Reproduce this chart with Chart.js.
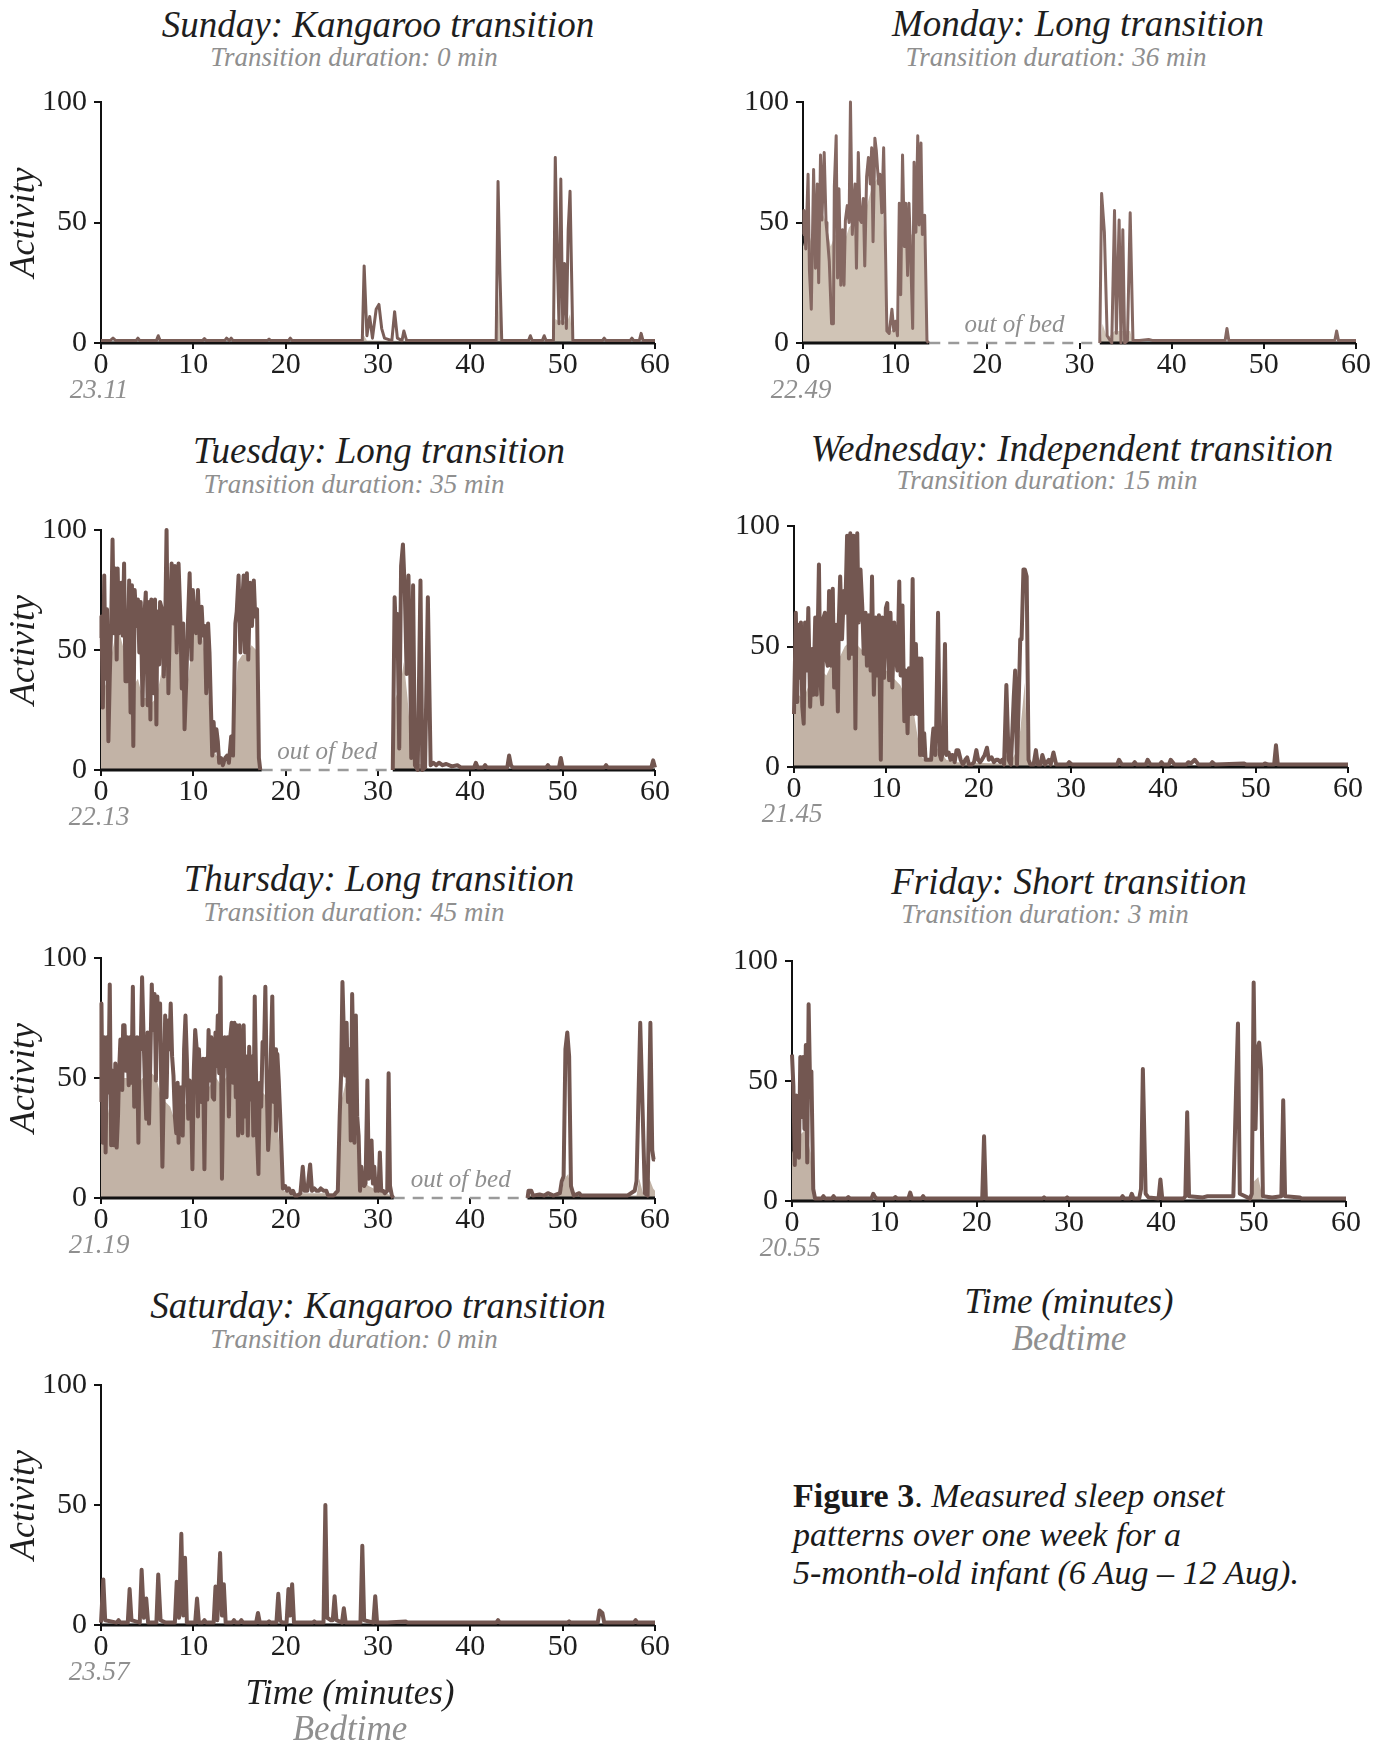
<!DOCTYPE html>
<html>
<head>
<meta charset="utf-8">
<script src="https://cdn.jsdelivr.net/npm/chart.js@4.4.1/dist/chart.umd.min.js"></script>
<style>
  body { margin: 0; width: 1388px; height: 1746px; position: relative; background: #fff; overflow: hidden; font-family: "Liberation Serif", serif; }
  canvas { position: absolute; }
  .txt { position: absolute; white-space: nowrap; line-height: 1; font-style: italic; transform: translateX(-50%); }
  #caption { position: absolute; left: 793px; top: 1477px; font-size: 34px; line-height: 38.5px; color: #1a1a1a; font-style: italic; white-space: nowrap; }
  #caption b, #caption span { font-style: normal; }
</style>
</head>
<body>
<div id="caption"><b>Figure 3</b><span>.</span> Measured sleep onset<br>patterns over one week for a<br>5-month-old infant (6 Aug – 12 Aug).</div>
<script>
// labels per day
const days = ["Sunday", "Monday", "Tuesday", "Wednesday", "Thursday", "Friday", "Saturday"];
const transitionTypes = ["Kangaroo", "Long", "Long", "Independent", "Long", "Short", "Kangaroo"];
const durations = [0, 36, 35, 15, 45, 3, 0];
const bedtimes = ["23.11", "22.49", "22.13", "21.45", "21.19", "20.55", "23.57"];
// minutes out of bed (dashed), null = stayed in bed
const outOfBed = [null, [13.7, 32.2], [17.4, 31.6], null, [31.7, 46.2], null, null];
const xTicks = [0, 10, 20, 30, 40, 50, 60];
const yTicks = [0, 50, 100];

// [minute, activity]
const sundayActivity = [[0,1],[1,1],[1.3,2],[1.6,1],[3.8,1],[4,2],[4.2,1],[6,1],[6.2,3],[6.4,1],[11,1],[11.2,1.8],[11.4,1],
  [13.4,1],[13.6,2],[13.9,1],[14.1,2],[14.3,1],[18,1],[18.2,1.6],[18.4,1],[20.3,1],[20.5,2],[20.7,1],[27.5,1],[28.3,1],
  [28.5,32],[28.8,3],[29.1,11],[29.4,2],[29.8,14],[30.1,16],[30.4,6],[30.7,2],[31.5,1],[31.8,13],[32.1,2],[32.6,1],[32.8,5],
  [33.1,1],[40,1],[42.8,1],[43,67],[43.2,30],[43.4,1],[46.3,1],[46.5,3],[46.7,1],[47.8,1],[48,3],[48.2,1],[49,1],[49.2,77],
  [49.4,38],[49.6,8],[49.8,68],[50,8],[50.2,33],[50.4,6],[50.6,47],[50.8,63],[51.1,1],[54.3,1],[54.5,2],[54.7,1],[57.3,1],
  [57.5,2],[57.7,1],[58.3,1],[58.5,4],[58.7,1],[60,1]];
const sundayFill = [[0,0.5],[28.3,0.5],[28.5,3],[28.8,1],[42.9,0.5],[43.1,22],[43.3,1],[49,0.5],[49.2,10],[49.6,9],[50,10],
  [50.4,8],[50.8,12],[51.1,0.5],[60,0.5]];

const mondayActivity = [[0,45],[0.1,55],[0.3,39],[0.55,70],[0.7,30],[0.9,14],[1.15,72],[1.35,31],[1.55,66],[1.7,25],[1.9,78],
  [2.05,51],[2.3,79],[2.5,50],[2.6,46],[2.85,34],[3.1,8],[3.3,8],[3.4,65],[3.6,86],[3.75,27],[3.9,64],[4.1,24],[4.3,47],
  [4.45,24],[4.6,51],[4.8,57],[5,50],[5.15,100],[5.35,45],[5.5,57],[5.65,66],[5.8,31],[6,79],[6.2,51],[6.35,50],[6.55,60],
  [6.7,32],[6.9,69],[7.1,77],[7.3,66],[7.45,81],[7.6,42],[7.8,85],[7.95,80],[8.2,66],[8.35,70],[8.55,54],[8.75,81],[8.9,50],
  [9.1,5],[9.35,4],[9.65,14],[9.85,5],[10.05,9],[10.25,3],[10.45,58],[10.6,20],[10.8,78],[11,40],[11.15,58],[11.35,28],
  [11.5,58],[11.7,34],[11.9,6],[12.05,75],[12.25,46],[12.45,86],[12.6,49],[12.8,83],[12.95,45],[13.2,53],[13.45,1],[13.6,0],
  [23,null],
  [32.2,0],[32.4,62],[32.7,46],[33,3],[33.5,0],[33.8,55],[34,4],[34.3,51],[34.5,0],[34.7,47],[34.9,0],[35.2,1],[35.5,54],
  [35.8,1],[36.5,1],[37.5,1.5],[38,1],[42,1],[45.8,1],[46,6],[46.2,1],[50,1],[55,1],[57.7,1],[57.9,5],[58.1,1],[60,1]];
const mondayFill = [[0,40],[0.5,48],[1,40],[1.5,48],[2,55],[2.5,50],[3,40],[3.5,45],[4,40],[4.5,42],[5,48],[5.5,50],[6,52],
  [6.5,50],[7,58],[7.5,65],[8,68],[8.5,62],[8.8,45],[9,6],[9.5,5],[10,6],[10.4,5],[10.6,35],[11,45],[11.5,45],[12,45],
  [12.5,55],[13,50],[13.3,30],[13.5,0],[32.3,0],[32.5,8],[33,2],[33.8,5],[35.5,5],[35.8,0],[60,0.5]];

const tuesdayActivity = [[0,55],[0.05,64],[0.2,26],[0.35,81],[0.5,38],[0.65,67],[0.8,12],[0.95,39],[1.1,60],[1.25,96],[1.4,57],
  [1.55,84],[1.7,46],[1.8,84],[1.95,57],[2.2,78],[2.35,56],[2.5,86],[2.65,37],[2.85,37],[3.05,79],[3.2,24],[3.35,77],[3.5,10],
  [3.65,75],[3.85,60],[4,71],[4.15,49],[4.3,70],[4.5,27],[4.65,61],[4.85,74],[5.05,27],[5.2,70],[5.35,21],[5.45,71],[5.7,32],
  [5.85,71],[6,19],[6.1,66],[6.3,44],[6.4,70],[6.6,67],[6.8,39],[6.95,59],[7.1,100],[7.3,32],[7.45,60],[7.65,86],[7.85,61],
  [8,85],[8.2,49],[8.4,86],[8.6,63],[8.75,34],[8.9,61],[9.05,17],[9.25,39],[9.4,60],[9.6,82],[9.8,46],[9.95,75],[10.15,59],
  [10.3,57],[10.5,75],[10.7,53],[10.9,68],[11.05,56],[11.25,60],[11.4,32],[11.6,61],[11.75,49],[11.9,27],[12.05,6],[12.2,20],
  [12.35,8],[12.5,17],[12.65,12],[12.8,3],[13,5],[13.2,2],[13.45,5],[13.65,6],[13.85,3],[14.1,14],[14.3,6],[14.55,61],
  [14.7,66],[14.9,81],[15.1,49],[15.25,66],[15.45,81],[15.6,49],[15.8,82],[15.95,46],[16.15,78],[16.35,60],[16.55,79],
  [16.7,64],[16.9,67],[17.1,5],[17.25,0],
  [24.5,null],
  [31.6,0],[31.8,72],[32,50],[32.1,65],[32.3,9],[32.5,85],[32.7,94],[32.9,75],[33.1,40],[33.3,81],[33.5,40],[33.6,5],
  [33.8,77],[34,2],[34.3,0],[34.6,79],[34.8,0],[35.1,1],[35.4,72],[35.7,2],[36,3],[36.3,2],[36.6,3],[37,2],[37.4,2.5],
  [38,1.5],[38.6,2],[39,1],[40.4,1],[40.6,3],[40.8,1],[41.4,1],[41.6,2],[41.8,1],[44,1],[44.2,6],[44.4,2],[44.6,1],[48.2,1],
  [48.4,2],[48.6,1],[49.6,1],[49.8,5],[50,1],[54.5,1],[54.7,2],[54.9,1],[59.6,1],[59.8,4],[60,1]];
const tuesdayFill = [[0,50],[0.5,35],[1,45],[1.5,55],[2,57],[2.5,50],[3,45],[3.5,35],[4,38],[4.5,30],[5,30],[5.5,28],[6,30],
  [6.5,40],[7,58],[7.5,62],[8,60],[8.5,55],[9,25],[9.5,40],[10,58],[10.5,60],[11,55],[11.5,40],[12,10],[12.5,6],[13,3],
  [13.5,3],[14,5],[14.4,20],[14.8,45],[15.3,48],[15.8,48],[16.3,52],[16.8,50],[17.1,5],[17.3,0],[31.6,0],[31.9,30],[32.4,35],
  [32.8,45],[33.2,30],[33.6,10],[34,3],[35,2],[35.6,0],[60,0.5]];

const wednesdayActivity = [[0,22],[0.05,22],[0.2,64],[0.35,27],[0.45,59],[0.6,37],[0.75,60],[0.9,25],[1.05,18],[1.2,60],[1.4,40],
  [1.55,66],[1.75,25],[1.95,49],[2.1,30],[2.3,62],[2.45,30],[2.7,84],[2.85,36],[3.05,26],[3.2,62],[3.35,64],[3.55,44],
  [3.65,42],[3.8,73],[4,42],[4.2,74],[4.35,33],[4.55,59],[4.75,23],[4.85,60],[5,79],[5.2,53],[5.4,73],[5.55,64],[5.75,96],
  [5.95,45],[6.1,97],[6.3,47],[6.45,96],[6.65,16],[6.85,97],[7,60],[7.2,82],[7.4,66],[7.55,47],[7.75,64],[7.9,42],[8.1,63],
  [8.3,40],[8.45,79],[8.65,30],[8.85,62],[9,38],[9.2,63],[9.4,3],[9.55,62],[9.75,37],[9.95,66],[10.1,68],[10.3,36],[10.45,64],
  [10.65,33],[10.85,60],[11,47],[11.2,40],[11.4,77],[11.55,38],[11.75,67],[11.95,19],[12.1,40],[12.3,14],[12.45,41],
  [12.65,22],[12.85,78],[13,22],[13.2,51],[13.4,22],[13.55,45],[13.65,5],[13.8,45],[13.95,5],[14.1,14],[14.25,3],[14.45,3],
  [14.65,3],[14.85,3],[15,12],[15.1,16],[15.3,5],[15.4,16],[15.6,64],[15.8,5],[15.95,3],[16.15,7],[16.35,51],[16.5,5],
  [16.75,6],[16.95,3],[17.15,5],[17.4,2],[17.6,7],[17.8,7],[18.05,3],[18.3,1],[18.55,3],[18.75,4],[18.95,1],[19.25,1],
  [19.5,2],[19.75,7],[19.95,3],[20.15,2],[20.35,3],[20.65,5],[20.9,8],[21.1,3],[21.4,4],[21.65,2],[21.9,3],[22.1,3],[22.35,2],
  [22.55,3],[22.75,1],[23,34],[23.25,3],[23.5,1],[23.8,29],[23.95,40],[24.15,1],[24.35,29],[24.5,53],[24.65,53],[24.85,82],
  [25,82],[25.2,79],[25.4,3],[25.6,1],[25.95,1],[26.2,7],[26.4,1],[26.7,1],[26.9,5],[27.2,1],[27.6,3],[27.8,1],[28.1,6],
  [28.4,1],[29.6,1],[29.8,2],[30.1,1],[35,1],[35.2,3],[35.5,1],[36.7,1],[36.9,2],[37.1,1],[38.1,1],[38.3,3],[38.6,1],
  [39.6,1],[39.8,2],[40,1],[40.6,1],[40.8,3],[41.2,1],[42.5,1],[42.7,2],[43,1.5],[43.4,3],[43.8,1],[45.1,1],[45.3,2],[45.6,1],
  [48.7,1.5],[49,1],[50.8,1],[51,1.5],[51.4,1],[52,1],[52.2,9],[52.4,1],[55,1],[57.5,1],[60,1]];
const wednesdayFill = [[0,22],[0.5,30],[1,28],[1.5,33],[2,30],[2.5,35],[3,40],[3.5,38],[4,42],[4.5,44],[5,46],[5.5,50],[6,52],
  [6.5,54],[7,50],[7.5,48],[8,44],[8.5,42],[9,38],[9.5,38],[10,40],[10.5,38],[11,36],[11.5,34],[12,30],[12.5,28],[13,22],
  [13.5,10],[14,3],[15,4],[15.6,8],[16.5,3],[17.5,2],[22.5,1.5],[23,5],[23.5,2],[24,6],[24.5,15],[25,35],[25.3,3],[26,1],
  [60,0.5]];

const thursdayActivity = [[0,40],[0.05,81],[0.2,23],[0.35,67],[0.5,19],[0.65,67],[0.8,44],[0.95,89],[1.1,22],[1.25,53],[1.4,22],
  [1.55,56],[1.7,21],[1.85,35],[1.95,52],[2.1,66],[2.3,45],[2.4,72],[2.55,72],[2.7,53],[2.85,67],[3,47],[3.15,67],[3.3,48],
  [3.45,88],[3.6,38],[3.75,48],[3.9,67],[4.05,23],[4.2,67],[4.3,62],[4.45,92],[4.6,69],[4.75,48],[4.9,33],[5.05,69],[5.2,31],
  [5.35,59],[5.5,89],[5.65,70],[5.8,85],[5.95,49],[6.1,84],[6.25,69],[6.4,81],[6.5,53],[6.65,13],[6.8,45],[6.95,76],[7.1,42],
  [7.25,74],[7.4,62],[7.55,81],[7.7,59],[7.85,51],[8,34],[8.15,27],[8.3,48],[8.4,23],[8.55,46],[8.7,46],[8.85,26],[9,62],
  [9.15,76],[9.3,58],[9.45,33],[9.6,49],[9.75,44],[9.9,12],[10.05,53],[10.2,70],[10.35,63],[10.5,34],[10.6,62],[10.75,49],
  [10.9,40],[11.05,58],[11.2,12],[11.35,58],[11.5,41],[11.65,70],[11.8,49],[11.95,67],[12.1,42],[12.25,41],[12.4,69],
  [12.5,55],[12.65,76],[12.8,52],[12.95,92],[13.1,8],[13.25,48],[13.4,67],[13.55,55],[13.7,67],[13.85,34],[14,67],[14.15,73],
  [14.3,48],[14.45,73],[14.6,42],[14.7,72],[14.85,26],[15,72],[15.15,48],[15.3,27],[15.45,72],[15.6,34],[15.75,59],[15.9,26],
  [16.05,63],[16.2,41],[16.35,59],[16.5,26],[16.65,84],[16.8,48],[16.9,26],[17.05,10],[17.2,48],[17.35,38],[17.5,65],
  [17.65,60],[17.8,88],[17.95,48],[18.1,20],[18.25,31],[18.4,60],[18.55,84],[18.7,40],[18.85,62],[18.95,28],[19.1,60],
  [19.25,49],[19.4,35],[19.55,20],[19.7,4],[19.95,5],[20.15,3],[20.35,4],[20.6,2],[20.8,3],[21,1],[21.3,1],[21.6,2],
  [21.85,13],[22.05,3],[22.35,3],[22.65,14],[22.85,3],[23.1,4],[23.35,3],[23.6,3],[23.8,4],[24.1,3],[24.4,3],[24.6,1],
  [24.9,1],[25.2,1],[25.4,2],[25.65,3],[25.85,34],[26,51],[26.15,90],[26.3,69],[26.45,51],[26.6,73],[26.75,40],[26.9,62],
  [27.05,24],[27.2,85],[27.35,55],[27.45,23],[27.6,76],[27.75,34],[27.9,26],[28.05,3],[28.2,13],[28.35,6],[28.5,5],[28.65,6],
  [28.85,49],[29,8],[29.15,10],[29.3,24],[29.45,6],[29.6,13],[29.75,3],[29.9,6],[30.05,3],[30.2,19],[30.35,3],[30.55,3],
  [30.75,2],[31,3],[31.15,52],[31.3,5],[31.5,1],[31.65,0],
  [39,null],
  [46.2,0],[46.3,3],[46.6,3],[46.8,1],[47.5,1.5],[48,1],[48.4,2],[49,1],[49.7,2],[49.9,7],[50.1,9],[50.3,62],[50.5,69],
  [50.7,59],[50.9,5],[51.2,1],[51.8,2],[52,1],[55,1],[57,1],[57.8,3],[58,7],[58.2,40],[58.4,73],[58.6,45],[58.9,2],[59.2,1],
  [59.5,73],[59.7,20],[59.85,16],[60,16]];
const thursdayFill = [[0,35],[0.5,30],[1,40],[1.5,38],[2,45],[2.5,50],[3,50],[3.5,48],[4,47],[4.5,50],[5,50],[5.5,52],[6,50],
  [6.5,42],[7,40],[7.5,38],[8,32],[8.5,30],[9,38],[9.5,42],[10,45],[10.5,45],[11,42],[11.5,45],[12,48],[12.5,50],[13,47],
  [13.5,50],[14,52],[14.5,50],[15,45],[15.5,42],[16,40],[16.5,42],[17,40],[17.5,44],[18,42],[18.5,45],[19,35],[19.5,15],
  [19.8,3],[20.5,2],[25.6,2],[26,40],[26.5,48],[27,45],[27.5,35],[28,8],[29,5],[30,3],[31,2],[31.6,0],[46.2,0],[46.3,1.5],
  [49.8,1.5],[50.2,8],[50.6,10],[51,1],[58,1],[58.3,8],[58.7,2],[59.4,8],[59.8,4],[60,3]];

const fridayActivity = [[0,61],[0.15,48],[0.3,15],[0.45,44],[0.6,40],[0.75,18],[0.9,60],[1.05,35],[1.2,60],[1.35,30],[1.5,65],
  [1.65,16],[1.8,82],[1.95,50],[2.1,54],[2.3,5],[2.5,1],[3.2,1],[3.4,2],[3.6,1],[4.3,1],[4.5,2],[4.7,1],[5.9,1],[6.1,1.6],
  [6.3,1],[8.6,1],[8.8,3],[9,1.6],[9.2,1],[11,1],[11.2,1.6],[11.4,1],[12.6,1],[12.8,3.5],[13,1],[14,1],[14.2,2],[14.4,1],
  [20.6,1],[20.8,27],[21,1],[27.1,1],[27.3,1.5],[27.5,1],[29.6,1],[29.8,1.5],[30,1],[35.6,1],[35.8,2],[36,1],[36.6,1],
  [36.8,3],[37,1],[37.6,1],[37.8,5],[38,55],[38.3,3],[38.6,1.5],[39.7,1],[39.9,9],[40.1,1],[42.4,1],[42.6,2],[42.8,37],[43,2],
  [44.5,1.5],[45,2],[46,2],[47.8,2],[48.1,47],[48.3,74],[48.5,3],[49.6,1],[49.8,3],[50,91],[50.2,30],[50.4,63],[50.6,66],
  [50.8,55],[51,2],[52,1.5],[53,2],[53.2,42],[53.4,2],[55,1.5],[55.2,1],[60,1]];
const fridayFill = [[0,20],[0.5,25],[1,28],[1.5,30],[2,20],[2.3,0],[2.5,0.5],[49.8,0.5],[50,8],[50.5,10],[51,0.5],[60,0.5]];

const saturdayActivity = [[0,1],[0.1,1],[0.25,19],[0.45,2],[1.7,1],[1.9,2],[2.1,1],[2.9,1],[3.1,15],[3.3,2],[4.2,1],[4.4,23],
  [4.65,3],[4.9,11],[5.1,1],[6,1],[6.2,21],[6.45,2],[7,1],[8,1],[8.2,18],[8.45,3],[8.7,38],[8.9,4],[9.1,28],[9.3,1],[10.2,1],
  [10.4,11],[10.6,1],[11,1],[11.2,2],[11.4,1],[12.2,1],[12.4,16],[12.6,2],[12.9,30],[13.1,4],[13.3,17],[13.5,1],[14.2,1],
  [14.4,2],[14.6,1],[15,1],[15.2,2],[15.4,1],[16.8,1],[17,5],[17.2,1],[18,1],[18.2,1.5],[18.4,1],[19,1],[19.2,13],[19.4,2],
  [19.6,1],[20.1,1],[20.3,15],[20.5,4],[20.7,17],[20.9,1],[22.9,1],[23.1,1.5],[23.3,1],[24.1,1],[24.3,50],[24.5,3],[24.9,2],
  [25.1,2],[25.3,12],[25.5,2],[26.1,1],[26.3,7],[26.5,1],[28.1,1],[28.3,33],[28.5,2],[29.5,1],[29.7,12],[29.9,1],[31,1],
  [33,1.5],[33.2,1],[42.8,1],[43,2],[43.2,1],[50.5,1],[50.7,1.5],[50.9,1],[53.8,1],[54,6],[54.3,5],[54.5,1],[57.7,1],[57.9,2],
  [58.1,1],[60,1]];
const saturdayFill = [[0,0.5],[60,0.5]];

const activity = [sundayActivity, mondayActivity, tuesdayActivity, wednesdayActivity, thursdayActivity, fridayActivity, saturdayActivity];
const fills = [sundayFill, mondayFill, tuesdayFill, wednesdayFill, thursdayFill, fridayFill, saturdayFill];

// page layout of each panel (plot box in px, title centres/baselines)
const panels = [
  { left: 101, right: 655, top: 100, bottom: 343, tx: 378, ty: 37, sx: 354, sy: 67, yTitle: true, line: "#7a5e58", fill: "#cbbfb2", width: 3 },
  { left: 803, right: 1356, top: 100, bottom: 343, tx: 1078, ty: 36, sx: 1056, sy: 67, yTitle: false, line: "#856862", fill: "#d0c4b6", width: 3 },
  { left: 101, right: 655, top: 528, bottom: 770, tx: 379, ty: 463, sx: 354, sy: 494, yTitle: true, line: "#725650", fill: "#c2b3a6", width: 4 },
  { left: 794, right: 1348, top: 524, bottom: 767, tx: 1072, ty: 461, sx: 1047, sy: 490, yTitle: false, line: "#735751", fill: "#c2b3a6", width: 4 },
  { left: 101, right: 655, top: 956, bottom: 1198, tx: 379, ty: 891, sx: 354, sy: 922, yTitle: true, line: "#735751", fill: "#c2b3a6", width: 4 },
  { left: 792, right: 1346, top: 959, bottom: 1201, tx: 1069, ty: 894, sx: 1045, sy: 924, yTitle: false, line: "#735751", fill: "#c2b3a6", width: 4 },
  { left: 101, right: 655, top: 1383, bottom: 1625, tx: 378, ty: 1318, sx: 354, sy: 1349, yTitle: true, line: "#735751", fill: "#c2b3a6", width: 4 }
];

function addText(text, cx, baseline, size, color) {
  const el = document.createElement("div");
  el.className = "txt";
  el.textContent = text;
  el.style.fontSize = size + "px";
  el.style.color = color;
  el.style.left = cx + "px";
  el.style.top = (baseline - 0.8375 * size) + "px";
  document.body.appendChild(el);
}

// bedtime under the 0 tick and the "out of bed" note above the dashed stretch
const panelText = {
  id: "panelText",
  afterDraw(chart, args, opts) {
    const { ctx, chartArea, scales } = chart;
    ctx.save();
    ctx.fillStyle = "#8f8f8f";
    ctx.textAlign = "center";
    ctx.textBaseline = "alphabetic";
    ctx.font = 'italic 27px "Liberation Serif"';
    ctx.fillText(opts.bedtime, scales.x.getPixelForValue(0) - 2, chartArea.bottom + 55);
    if (opts.gap) {
      ctx.font = 'italic 25px "Liberation Serif"';
      ctx.fillText("out of bed", scales.x.getPixelForValue((opts.gap[0] + opts.gap[1]) / 2), chartArea.bottom - 11);
    }
    ctx.restore();
  }
};

Chart.defaults.font.family = '"Liberation Serif", serif';
Chart.defaults.color = "#1e1e1e";

const toPoints = pairs => pairs.map(p => ({ x: p[0], y: p[1] }));

panels.forEach((p, i) => {
  addText(days[i] + ": " + transitionTypes[i] + " transition", p.tx, p.ty, 37, "#1e1e1e");
  addText("Transition duration: " + durations[i] + " min", p.sx, p.sy, 27, "#8f8f8f");

  const canvas = document.createElement("canvas");
  canvas.width = p.right - p.left + 125;
  canvas.height = p.bottom - p.top + 85;
  canvas.style.left = (p.left - 100) + "px";
  canvas.style.top = (p.top - 20) + "px";
  document.body.appendChild(canvas);

  const gap = outOfBed[i];
  const base = gap
    ? [{ x: 0, y: 0 }, { x: gap[0], y: 0 }, { x: (gap[0] + gap[1]) / 2, y: null }, { x: gap[1], y: 0 }, { x: 60, y: 0 }]
    : [{ x: 0, y: 0 }, { x: 60, y: 0 }];

  new Chart(canvas, {
    type: "line",
    data: {
      datasets: [
        { data: toPoints(activity[i]), borderColor: p.line, borderWidth: p.width, order: 1 },
        { data: base, borderColor: "#111", borderWidth: 3, order: 2 },
        { data: gap ? [{ x: gap[0], y: 0 }, { x: gap[1], y: 0 }] : [], borderColor: "#9a9a9a", borderWidth: 2.5, borderDash: [11, 8], borderCapStyle: "butt", order: 2 },
        { data: toPoints(fills[i]), borderWidth: 0, borderColor: "rgba(0,0,0,0)", backgroundColor: p.fill, fill: "origin", order: 3 }
      ]
    },
    options: {
      responsive: false,
      animation: false,
      events: [],
      layout: { padding: { top: 20, right: 25, left: 0, bottom: 0 } },
      datasets: { line: { clip: false, tension: 0, pointRadius: 0, borderJoinStyle: "round", spanGaps: false } },
      plugins: {
        legend: { display: false },
        tooltip: { enabled: false },
        panelText: { bedtime: bedtimes[i], gap: gap }
      },
      scales: {
        x: {
          type: "linear",
          min: 0,
          max: 60,
          afterBuildTicks: s => { s.ticks = xTicks.map(v => ({ value: v })); },
          ticks: { color: "#1e1e1e", font: { size: 30, lineHeight: 1 }, padding: 1, maxRotation: 0 },
          grid: { drawOnChartArea: false, drawTicks: true, tickLength: 6, color: "#111", lineWidth: 2 },
          border: { display: false },
          afterFit: s => { s.height = 65; }
        },
        y: {
          min: 0,
          max: 100,
          afterBuildTicks: s => { s.ticks = yTicks.map(v => ({ value: v })); },
          ticks: { color: "#1e1e1e", font: { size: 30, lineHeight: 1 }, padding: 7 },
          grid: { drawOnChartArea: false, drawTicks: true, tickLength: 7, color: "#111", lineWidth: 2 },
          border: { display: true, color: "#111", width: 2 },
          title: { display: p.yTitle, text: "Activity", color: "#1e1e1e", font: { size: 36, style: "italic", lineHeight: 1 }, padding: { top: 6, bottom: 0 } },
          afterFit: s => { s.width = 100; }
        }
      }
    },
    plugins: [panelText]
  });
});

// x axis titles under Friday and Saturday
addText("Time (minutes)", 1069, 1313, 35, "#1e1e1e");
addText("Bedtime", 1069, 1350, 35, "#8f8f8f");
addText("Time (minutes)", 350, 1704, 35, "#1e1e1e");
addText("Bedtime", 350, 1740, 35, "#8f8f8f");
</script>
</body>
</html>
